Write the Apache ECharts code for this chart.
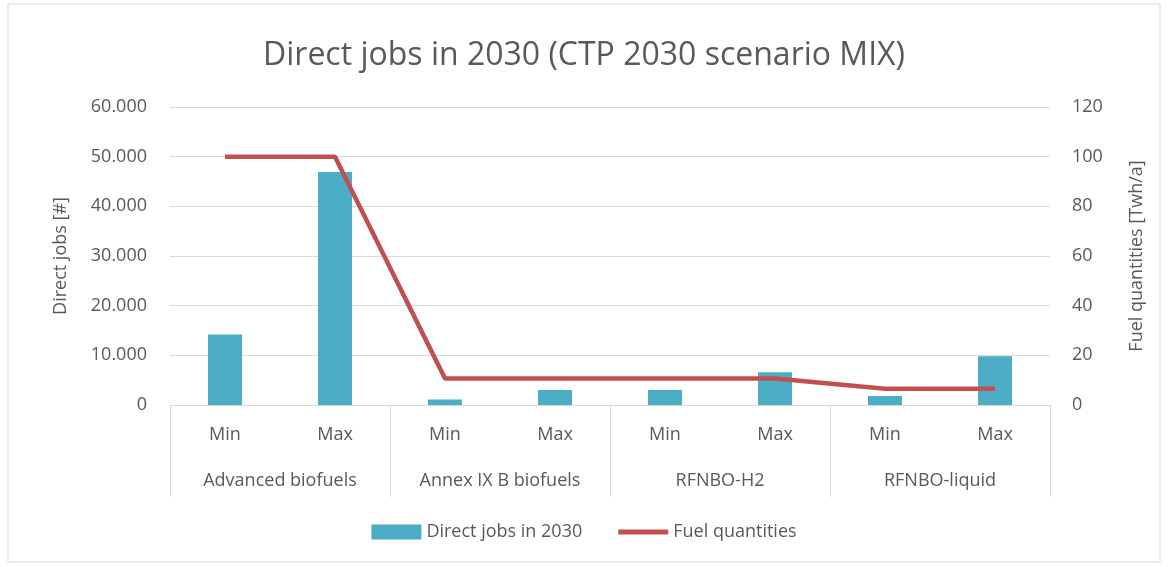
<!DOCTYPE html>
<html>
<head>
<meta charset="utf-8">
<script src="https://cdn.jsdelivr.net/npm/echarts@6/dist/echarts.min.js"></script>
<style>
  html, body { margin: 0; padding: 0; background: #fff; }
  #main { width: 1168px; height: 567px; }
</style>
</head>
<body>
<div id="main"></div>
<script>
var subCats = ['Min', 'Max', 'Min', 'Max', 'Min', 'Max', 'Min', 'Max'];
var groups = ['Advanced biofuels', 'Annex IX B biofuels', 'RFNBO-H2', 'RFNBO-liquid'];
var jobs = [14200, 46900, 1100, 3000, 3000, 6600, 1800, 9800];
var fuel = [100, 100, 10.7, 10.7, 10.7, 10.7, 6.5, 6.5];

function dotThousands(v) {
    return String(v).replace(/\B(?=(\d{3})+(?!\d))/g, '.');
}

function main() {
    var myChart = echarts.init(document.getElementById('main'));
    var grey = '#595959';
    var font = 'Open Sans';

    var option = {
        backgroundColor: '#ffffff',
        textStyle: { fontFamily: font, color: grey },
        title: {
            text: 'Direct jobs in 2030 (CTP 2030 scenario MIX)',
            left: 'center',
            top: 35,
            textStyle: { fontFamily: font, fontSize: 32, fontWeight: 'normal', color: grey }
        },
        graphic: [{
            type: 'rect',
            shape: { x: 8, y: 4, width: 1152, height: 558 },
            style: { fill: 'none', stroke: '#d9d9d9', lineWidth: 1 },
            silent: true
        }],
        legend: {
            bottom: 21,
            left: 'center',
            itemWidth: 50,
            itemHeight: 15,
            itemGap: 36,
            textStyle: { fontFamily: font, fontSize: 18, color: grey },
            data: [
                { name: 'Direct jobs in 2030', icon: 'rect' },
                { name: 'Fuel quantities', icon: 'path://M0,0 L0,0 M0,5 L50,5 L50,10 L0,10 Z M0,15 L0,15' }
            ]
        },
        grid: { left: 170, right: 118, top: 107, bottom: 162 },
        xAxis: [{
            type: 'category',
            data: subCats,
            axisLine: { lineStyle: { color: '#d9d9d9' } },
            axisTick: { show: false },
            axisLabel: { interval: 0, margin: 21, fontSize: 18, color: grey }
        }, {
            type: 'category',
            data: groups,
            position: 'bottom',
            axisLine: { show: false },
            axisTick: { show: true, length: 92, lineStyle: { color: '#d9d9d9' } },
            axisLabel: { interval: 0, margin: 67, fontSize: 18, color: grey },
            splitLine: { show: false }
        }],
        yAxis: [{
            type: 'value',
            min: 0,
            max: 60000,
            interval: 10000,
            name: 'Direct jobs [#]',
            nameLocation: 'middle',
            nameGap: 100,
            nameTextStyle: { fontSize: 18, color: grey },
            axisLabel: { margin: 23, fontSize: 18, color: grey, formatter: dotThousands },
            splitLine: { lineStyle: { color: '#d9d9d9' } },
            axisLine: { show: false },
            axisTick: { show: false }
        }, {
            type: 'value',
            min: 0,
            max: 120,
            interval: 20,
            name: 'Fuel quantities [Twh/a]',
            nameLocation: 'middle',
            nameGap: 78,
            nameRotate: 90,
            nameTextStyle: { fontSize: 18, color: grey },
            axisLabel: { margin: 22, fontSize: 18, color: grey },
            splitLine: { show: false },
            axisLine: { show: false },
            axisTick: { show: false }
        }],
        series: [{
            name: 'Direct jobs in 2030',
            type: 'bar',
            xAxisIndex: 0,
            yAxisIndex: 0,
            barWidth: 34,
            itemStyle: { color: '#4bacc6' },
            data: jobs
        }, {
            name: 'Fuel quantities',
            type: 'line',
            xAxisIndex: 0,
            yAxisIndex: 1,
            symbol: 'none',
            lineStyle: { color: '#c0504d', width: 4.5 },
            itemStyle: { color: '#c0504d' },
            data: fuel
        }]
    };

    myChart.setOption(option);
}

main();
</script>
</body>
</html>
